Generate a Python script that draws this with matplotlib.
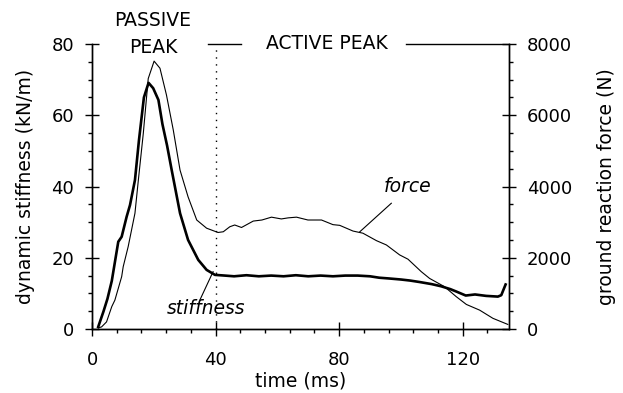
import matplotlib
matplotlib.use('Agg')
import matplotlib.pyplot as plt
from matplotlib.ticker import MultipleLocator

plt.rcParams['font.family'] = ['DejaVu Sans']

# dynamic stiffness (kN/m)
stiff_t = [2, 3.7, 5, 6.4, 8.5, 9.6, 11.2, 12.3, 13.9, 15.2, 16.8, 18.3, 19.8, 21.5, 22.8,
           24.3, 25.8, 28.5, 31.1, 34.4, 37.1, 39.8, 43, 46, 50, 54, 58, 62, 66, 70, 74,
           78, 82, 86, 90, 93, 96, 100, 103, 106, 110, 113, 116, 118, 121, 124, 127.6,
           131.4, 132.5, 133.9]
stiffness = [0.6, 4.9, 8.5, 13.5, 24.5, 25.9, 31.5, 34.8, 41.8, 53, 65, 69.1, 67.6, 64.3, 57.5,
             51.5, 44.6, 32.5, 25.0, 19.4, 16.6, 15.2, 15.0, 14.8, 15.1, 14.8, 15.0, 14.8,
             15.1, 14.8, 15.0, 14.8, 15.0, 15.0, 14.8, 14.4, 14.2, 13.9, 13.6, 13.2, 12.6,
             12.0, 11.2, 10.5, 9.4, 9.7, 9.3, 9.1, 9.5, 12.5]

# ground reaction force (N)
force_t = [2, 3.1, 4.7, 6.4, 7.4, 9.6, 10.1, 11.7, 13.9, 15, 16.6, 18.2, 20.1, 22.0, 24.1,
           26.3, 28.5, 31.1, 33.9, 37.1, 40.8, 42.5, 44.6, 46.2, 48.4, 52.2, 55, 58.1,
           61.3, 63.5, 66.2, 69.9, 74.3, 78.0, 80.2, 84.5, 87.7, 92.1, 95.3, 99.6, 102.3,
           106.6, 109.3, 114.1, 117.9, 121.2, 125.5, 129.8, 134.6]
force = [30, 60, 200, 630, 810, 1470, 1750, 2310, 3250, 4180, 5490, 7030, 7520, 7320, 6570,
         5590, 4460, 3710, 3060, 2830, 2710, 2730, 2870, 2920, 2850, 3030, 3060, 3140, 3090,
         3120, 3140, 3060, 3060, 2930, 2910, 2750, 2690, 2480, 2360, 2080, 1960, 1610, 1420,
         1190, 910, 690, 530, 300, 130]

x_ticks = [0, 40, 80, 120]
left_ticks = [0, 20, 40, 60, 80]
right_ticks = [0, 2000, 4000, 6000, 8000]

fig = plt.figure(figsize=(6.23, 3.93), dpi=100)
ax = fig.add_axes([0.1477, 0.1628, 0.8170 - 0.1477, 0.888 - 0.1628])
ax2 = ax.twinx()

ax.plot(stiff_t, stiffness, color='black', lw=1.9, solid_joinstyle='round')
ax2.plot(force_t, force, color='black', lw=0.8)

ax.set_xlim(0, 135)
ax.set_ylim(0, 80)
ax2.set_ylim(0, 8000)

for a in (ax, ax2):
    a.spines['top'].set_visible(False)
    for s in a.spines.values():
        s.set_linewidth(1.0)

ax.set_xticks(x_ticks)
ax.set_yticks(left_ticks)
ax2.set_yticks(right_ticks)
ax.xaxis.set_minor_locator(MultipleLocator(8))
ax.yaxis.set_minor_locator(MultipleLocator(5))
ax2.yaxis.set_minor_locator(MultipleLocator(500))

ax.tick_params(axis='both', which='major', direction='inout', length=9.5, width=1.0,
               labelsize=13, pad=8)
ax.tick_params(axis='x', which='major', pad=11)
ax.tick_params(axis='both', which='minor', direction='out', length=3.2, width=1.0)
ax2.tick_params(axis='y', which='major', direction='inout', length=9.5, width=1.0,
                labelsize=13, pad=8)
ax2.tick_params(axis='y', which='minor', direction='out', length=3.2, width=1.0)

ax.set_xlabel('time (ms)', fontsize=13.5, labelpad=2)
ax.set_ylabel('dynamic stiffness (kN/m)', fontsize=13.5, labelpad=12)
ax2.set_ylabel('ground reaction force (N)', fontsize=13.5, labelpad=18)

# phase separator and phase labels
ax.plot([40, 40], [0, 80], color='black', lw=1.0, ls=(0, (1, 4)))
ax.text(19.6, 86.7, 'PASSIVE', ha='center', va='center', fontsize=13.5, clip_on=False)
ax.text(19.8, 79.0, 'PEAK', ha='center', va='center', fontsize=13.5, clip_on=False)
ax.text(75.9, 80.2, 'ACTIVE PEAK', ha='center', va='center', fontsize=13.5, clip_on=False)
ax.plot([37.5, 48.2], [80, 80], color='black', lw=1.0, clip_on=False)
ax.plot([101.8, 135], [80, 80], color='black', lw=1.0, clip_on=False)

# curve labels with pointer lines
ax.text(102.2, 39.9, 'force', style='italic', ha='center', va='center', fontsize=13.5)
ax.plot([96.9, 86.7], [35.3, 27.3], color='black', lw=0.8)
ax.text(36.9, 5.9, 'stiffness', style='italic', ha='center', va='center', fontsize=13.5)
ax.plot([34.9, 39.2], [8.1, 16.1], color='black', lw=0.8)

fig.savefig('out.png', dpi=100)
